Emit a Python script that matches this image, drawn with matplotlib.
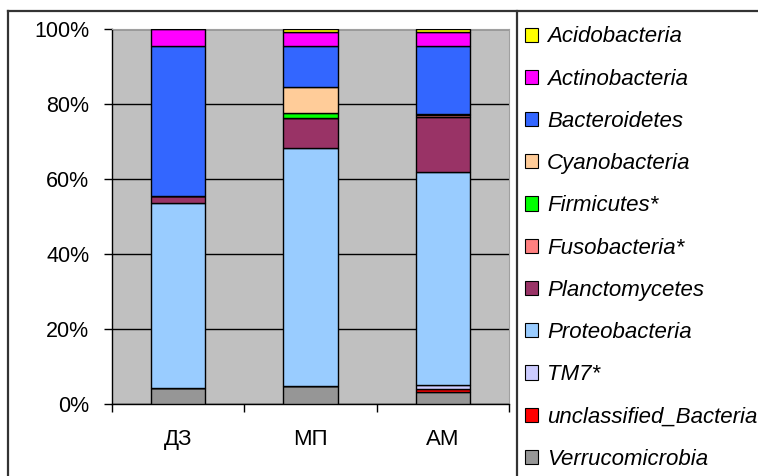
import numpy as np
import matplotlib.pyplot as plt
from matplotlib.patches import Patch
from matplotlib.lines import Line2D

plt.rcParams['font.family'] = ['Liberation Sans', 'DejaVu Sans']

# категории и доли (%) по каждому таксону, снизу вверх
sites = ['ДЗ', 'МП', 'АМ']
taxa = ['Verrucomicrobia', 'unclassified_Bacteria', 'TM7*', 'Proteobacteria',
        'Planctomycetes', 'Fusobacteria*', 'Firmicutes*', 'Cyanobacteria',
        'Bacteroidetes', 'Actinobacteria', 'Acidobacteria']
verruco = [4.4, 5.0, 3.2]
unclass = [0.0, 0.0, 1.0]
tm7 = [0.0, 0.0, 1.0]
proteo = [49.2, 63.4, 56.8]
plancto = [2.0, 8.0, 14.5]
fuso = [0.0, 0.0, 0.6]
firmi = [0.0, 1.4, 0.3]
cyano = [0.0, 6.7, 0.0]
bactero = [40.0, 11.1, 18.2]
actino = [4.4, 3.8, 3.6]
acido = [0.0, 0.6, 0.8]
colors = ['#969696', '#FF0000', '#CCCCFF', '#99CCFF', '#993366', '#FF8080',
          '#00FF00', '#FFCC99', '#3366FF', '#FF00FF', '#FFFF00']

series = [verruco, unclass, tm7, proteo, plancto, fuso, firmi, cyano,
          bactero, actino, acido]
data = np.array(series, dtype=float)
data = data / data.sum(axis=0) * 100

W, H = 758, 476
fig = plt.figure(figsize=(W / 100, H / 100), dpi=100)
ax = fig.add_axes([111.7 / W, 1 - 404.3 / H, (509.5 - 111.7) / W, (404.3 - 29.3) / H])
ax.set_facecolor('#C0C0C0')

x = np.arange(len(sites))
bottom = np.zeros(len(sites))
for vals, c in zip(data, colors):
    ax.bar(x, vals, width=0.41, bottom=bottom, color=c, edgecolor='black',
           linewidth=1.0, zorder=3)
    bottom += vals

ax.set_xlim(-0.5, 2.5)
ax.set_ylim(0, 100)
ax.set_yticks(np.arange(0, 101, 20))
ax.set_yticklabels([f'{v}%' for v in range(0, 101, 20)], fontsize=15.5)
ax.yaxis.grid(True, color='black', linewidth=1.0, zorder=0)
ax.set_axisbelow(True)
ax.tick_params(axis='y', length=6, width=1, pad=10)
ax.set_xticks(x)
ax.set_xticklabels(sites, fontsize=16)
ax.set_xticks([-0.5, 0.5, 1.5, 2.5], minor=True)
ax.tick_params(axis='x', which='major', length=0, pad=18)
ax.tick_params(axis='x', which='minor', length=6, width=1)
for s in ['top', 'right']:
    ax.spines[s].set_color('#A0A0A0')
ax.spines['left'].set_linewidth(1.0)
ax.spines['bottom'].set_linewidth(1.0)

# рамка диаграммы и легенды
frame_kw = dict(color='#333333', linewidth=1.6, transform=fig.transFigure)
fig.add_artist(Line2D([8 / W, 1], [1 - 10.7 / H] * 2, **frame_kw))
fig.add_artist(Line2D([8 / W] * 2, [0, 1 - 10.7 / H], **frame_kw))
fig.add_artist(Line2D([516.7 / W] * 2, [0, 1 - 10.7 / H], **frame_kw))

handles = [Patch(facecolor=c, edgecolor='black', linewidth=0.8, label=t)
           for t, c in zip(taxa, colors)][::-1]
fig.legend(handles=handles, loc='upper left',
           bbox_to_anchor=(525 / W, 1 - 26.5 / H), frameon=False,
           prop={'size': 16, 'style': 'italic'}, labelspacing=0.955,
           handlelength=0.6, handleheight=0.6, handletextpad=0.4,
           borderpad=0, borderaxespad=0)

fig.savefig('out.png', dpi=100)
